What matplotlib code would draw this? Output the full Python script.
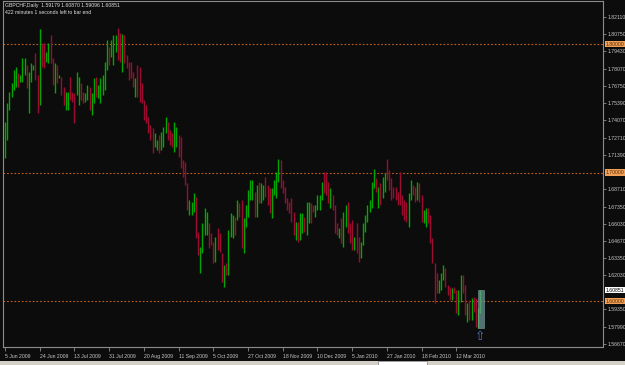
"""GBPCHF daily bar chart, MetaTrader style."""

import numpy as np
import matplotlib
matplotlib.use("Agg")
import matplotlib.pyplot as plt
from matplotlib.patches import Rectangle
from matplotlib.transforms import blended_transform_factory


# ── Data ──────────────────────────────────────────────────────────────────────

highs = [
    1.7394, 1.7542, 1.7627, 1.7697, 1.7798, 1.7822, 1.7775, 1.7760, 1.7892, 1.7892,
    1.7837, 1.7783, 1.7853, 1.7837, 1.7931, 1.7760, 1.8117, 1.8008, 1.8008, 1.7938,
    1.8008, 1.8071, 1.7892, 1.7853, 1.7837, 1.7760, 1.7744, 1.7666, 1.7627, 1.7627,
    1.7744, 1.7627, 1.7619, 1.7783, 1.7744, 1.7697, 1.7627, 1.7619, 1.7682, 1.7666,
    1.7619, 1.7736, 1.7744, 1.7682, 1.7736, 1.7760, 1.7861, 1.8032, 1.7977, 1.8032,
    1.8071, 1.8071, 1.8125, 1.8086, 1.8079, 1.8071, 1.7915, 1.7861, 1.7861,
    1.7783, 1.7736, 1.7837, 1.7822, 1.7697, 1.7565, 1.7526, 1.7433, 1.7371, 1.7347,
    1.7308, 1.7254, 1.7293, 1.7316, 1.7355, 1.7433, 1.7394, 1.7332, 1.7308, 1.7394,
    1.7355, 1.7293, 1.7277, 1.7098, 1.7083, 1.6919, 1.6787, 1.6771, 1.6841, 1.6810,
    1.6538, 1.6421, 1.6608, 1.6725, 1.6694, 1.6608, 1.6530, 1.6460, 1.6499, 1.6569,
    1.6530, 1.6375, 1.6281, 1.6297, 1.6554, 1.6686, 1.6670, 1.6655, 1.6787, 1.6764,
    1.6787, 1.6647, 1.6748, 1.6865, 1.6943, 1.6943, 1.6849, 1.6904, 1.6927, 1.6919,
    1.6904, 1.6966, 1.6904, 1.6880, 1.6880, 1.6943, 1.7005, 1.7106, 1.7098, 1.6943,
    1.6888, 1.6803, 1.6771, 1.6803, 1.6694, 1.6616, 1.6616, 1.6686, 1.6686, 1.6655,
    1.6771, 1.6771, 1.6764, 1.6748, 1.6748, 1.6826, 1.6826, 1.6927, 1.7005, 1.7005,
    1.6927, 1.6880, 1.6826, 1.6748, 1.6608, 1.6569, 1.6647, 1.6694, 1.6748, 1.6771,
    1.6608, 1.6631, 1.6499, 1.6608, 1.6499, 1.6460, 1.6608, 1.6670, 1.6748, 1.6787,
    1.6927, 1.7028, 1.6958, 1.6888, 1.6919, 1.6966, 1.6997, 1.7106, 1.7020, 1.6958,
    1.6888, 1.6888, 1.6849, 1.7005, 1.6826, 1.6787, 1.6771, 1.6841, 1.6943, 1.6904,
    1.6888, 1.6927, 1.6919, 1.6826, 1.6709, 1.6725, 1.6725, 1.6670, 1.6491, 1.6297,
    1.6219, 1.6165, 1.6219, 1.6281, 1.6258, 1.6126, 1.6110, 1.6102, 1.6110, 1.6087,
    1.6087, 1.6204, 1.6204, 1.6126, 1.5986, 1.6009, 1.6025, 1.6032, 1.6025, 1.5947, 1.6087,
]

lows = [
    1.7114, 1.7254, 1.7487, 1.7588, 1.7643, 1.7666, 1.7666, 1.7705, 1.7705, 1.7760,
    1.7658, 1.7464, 1.7705, 1.7798, 1.7721, 1.7464, 1.7526, 1.7822, 1.7814, 1.7861,
    1.7853, 1.7853, 1.7682, 1.7619, 1.7697, 1.7736, 1.7604, 1.7526, 1.7487, 1.7487,
    1.7565, 1.7549, 1.7386, 1.7604, 1.7526, 1.7565, 1.7542, 1.7549, 1.7565, 1.7487,
    1.7448, 1.7542, 1.7588, 1.7581, 1.7542, 1.7604, 1.7643, 1.7798, 1.7837, 1.7900,
    1.7837, 1.7938, 1.7876, 1.7861, 1.7783, 1.7853, 1.7814, 1.7721, 1.7736,
    1.7666, 1.7588, 1.7588, 1.7549, 1.7542, 1.7409, 1.7386, 1.7308, 1.7254, 1.7153,
    1.7199, 1.7176, 1.7153, 1.7176, 1.7199, 1.7308, 1.7254, 1.7215, 1.7199, 1.7160,
    1.7199, 1.7122, 1.7036, 1.6966, 1.6904, 1.6709, 1.6670, 1.6670, 1.6694, 1.6491,
    1.6359, 1.6219, 1.6375, 1.6515, 1.6515, 1.6414, 1.6437, 1.6297, 1.6305, 1.6398,
    1.6383, 1.6149, 1.6110, 1.6204, 1.6204, 1.6499, 1.6491, 1.6515, 1.6631, 1.6655,
    1.6414, 1.6375, 1.6577, 1.6655, 1.6787, 1.6787, 1.6655, 1.6655, 1.6764, 1.6764,
    1.6787, 1.6810, 1.6748, 1.6686, 1.6647, 1.6826, 1.6803, 1.6927, 1.6880, 1.6841,
    1.6764, 1.6709, 1.6686, 1.6616, 1.6515, 1.6476, 1.6460, 1.6476, 1.6530, 1.6538,
    1.6515, 1.6608, 1.6608, 1.6694, 1.6655, 1.6709, 1.6709, 1.6787, 1.6841, 1.6826,
    1.6764, 1.6725, 1.6709, 1.6530, 1.6515, 1.6491, 1.6452, 1.6421, 1.6577, 1.6530,
    1.6452, 1.6398, 1.6398, 1.6375, 1.6305, 1.6336, 1.6437, 1.6538, 1.6616, 1.6694,
    1.6725, 1.6880, 1.6849, 1.6725, 1.6748, 1.6803, 1.6849, 1.6943, 1.6865, 1.6787,
    1.6803, 1.6787, 1.6748, 1.6748, 1.6670, 1.6631, 1.6616, 1.6577, 1.6787, 1.6826,
    1.6771, 1.6787, 1.6771, 1.6616, 1.6608, 1.6577, 1.6608, 1.6452, 1.6297, 1.5986,
    1.6063, 1.6063, 1.6087, 1.6165, 1.6110, 1.6048, 1.6009, 1.6009, 1.6063, 1.5908,
    1.5892, 1.5993, 1.6063, 1.5892, 1.5838, 1.5853, 1.5853, 1.5916, 1.5799, 1.5791, 1.5910,
]

# u = bull bar, d = bear bar
directions = (
    "uuuuuuduuu" "duuudduddu" "uddududduu" "ddduudduud" "uuduuuuudu"
    "uuddudddd" "dudddddddd" "uuduuudddu" "uddddduuud" "duuuudddud"
    "dduduuudud" "duuuuududu" "uddduuuudd" "ddddduduud" "uudduuuudd"
    "duddduduud" "ddudduuuuu" "uududuuddd" "ddddddduud" "dudduudddd"
    "duuudddudd" "uuddududduu"
)

date_labels = [
    "5 Jun 2009", "24 Jun 2009", "13 Jul 2009", "31 Jul 2009", "20 Aug 2009",
    "11 Sep 2009", "5 Oct 2009", "27 Oct 2009", "18 Nov 2009", "10 Dec 2009",
    "5 Jan 2010", "27 Jan 2010", "18 Feb 2010", "12 Mar 2010",
]
bars_per_label = 16

price_ticks = [
    1.82110, 1.80750, 1.79430, 1.78070, 1.76750, 1.75390, 1.74070, 1.72710,
    1.71390, 1.68710, 1.67350, 1.66030, 1.64670, 1.63350, 1.62030,
    1.59350, 1.57990, 1.56670,
]
level_lines = [1.80000, 1.70000, 1.60000]
last_bar = {"open": 1.59179, "high": 1.60870, "low": 1.59096, "close": 1.60851}
highlight_box = (1.5791, 1.6087)  # price span of the last-bar marker

symbol = "GBPCHF,Daily"
timer_text = "422 minutes 1 seconds left to bar end"


# ── Style ─────────────────────────────────────────────────────────────────────

BG = "#0c0c0c"
FRAME = "#8c8c8c"
TEXT = "#c8c8c8"
BULL = "#00a800"
BEAR = "#9c0c30"
LEVEL = "#c4621e"
FONT = "Liberation Sans"
FS = 3.7

W, H = 625, 365


def main():
    n = len(highs)
    idx = np.arange(n)
    colors = [BULL if d == "u" else BEAR for d in directions]

    fig = plt.figure(figsize=(W / 100, H / 100), dpi=100, facecolor=BG)
    ax = fig.add_axes([3 / W, 1 - 347 / H, 600 / W, 346 / H], facecolor=BG)

    # bars
    ax.vlines(idx, lows, highs, colors=colors, linewidth=1.0, zorder=3)

    # last-bar marker (translucent box over the last bars)
    ax.add_patch(Rectangle((n - 2.2, highlight_box[0]), 2.9,
                           highlight_box[1] - highlight_box[0],
                           facecolor="#6f9f9c", edgecolor="#7fa9a6", linewidth=0.5,
                           alpha=0.7, zorder=4))
    ax.text(n - 0.9, highlight_box[0] - 0.0065, "\u21e7", color="#5477c0",
            fontsize=9, ha="center", va="center", family="DejaVu Sans", zorder=5)

    # horizontal levels
    for lvl in level_lines:
        ax.axhline(lvl, color=LEVEL, linestyle=(0, (1.5, 1.8)), linewidth=0.8, zorder=1)

    ax.set_xlim(-0.92, 275.6)
    ax.set_ylim(1.5643, 1.8335)

    for s in ax.spines.values():
        s.set_color(FRAME)
        s.set_linewidth(0.8)

    # price axis on the right
    ax.yaxis.tick_right()
    ax.set_yticks(price_ticks)
    ax.set_yticklabels([f"{p:.5f}" for p in price_ticks], fontsize=FS,
                       color=TEXT, family=FONT)
    ax.tick_params(axis="y", length=2, width=0.6, color=FRAME, pad=1)

    # date axis
    xt = [i * bars_per_label for i in range(len(date_labels))]
    ax.set_xticks(xt)
    ax.set_xticklabels(date_labels, fontsize=FS, color=TEXT, family=FONT, ha="left")
    ax.tick_params(axis="x", length=3, width=0.6, color=FRAME, pad=2)

    # level tags on the price axis
    tr = blended_transform_factory(ax.transAxes, ax.transData)
    for lvl in level_lines:
        ax.text(1.004, lvl, f"{lvl:.5f}", transform=tr, fontsize=FS, family=FONT,
                color="#5a2a00", va="center", ha="left",
                bbox=dict(boxstyle="square,pad=0.15", fc="#f0a058", ec="none"))
    ax.text(1.004, last_bar["close"], f"{last_bar['close']:.5f}", transform=tr,
            fontsize=FS, family=FONT, color="#000000", va="center", ha="left",
            bbox=dict(boxstyle="square,pad=0.15", fc="#ffffff", ec="none"))

    # header
    header = (f"{symbol}  {last_bar['open']:.5f} {last_bar['high']:.5f} "
              f"{last_bar['low']:.5f} {last_bar['close']:.5f}")
    fig.text(5 / W, 1 - 6 / H, header, fontsize=FS, color="#e0e0e0",
             family=FONT, va="center", ha="left")
    fig.text(5 / W, 1 - 13 / H, timer_text, fontsize=FS, color="#e0e0e0",
             family=FONT, va="center", ha="left")

    # tab strip at the very bottom
    fig.patches.append(Rectangle((0, 0), 1, 4 / H, transform=fig.transFigure,
                                 facecolor="#d4d0c8", edgecolor="none", zorder=0))
    fig.patches.append(Rectangle((378 / W, 0), 49 / W, 4 / H, transform=fig.transFigure,
                                 facecolor="#ffffff", edgecolor="#808080",
                                 linewidth=0.5, zorder=1))

    fig.savefig("out.png", dpi=100, facecolor=BG)


if __name__ == "__main__":
    main()
